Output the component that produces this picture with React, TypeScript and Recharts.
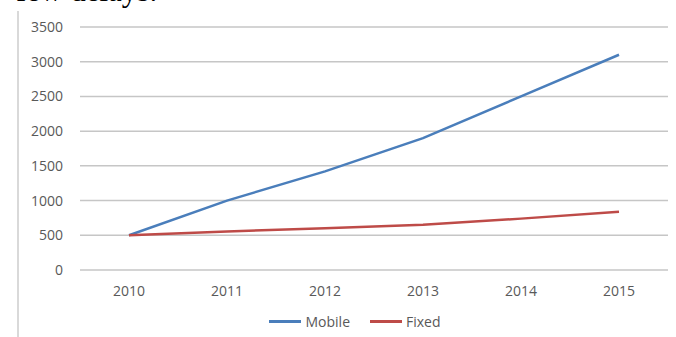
import { LineChart, Line, XAxis, YAxis, CartesianGrid, Legend } from 'recharts';

const years = ['2010', '2011', '2012', '2013', '2014', '2015'];
const mobile = [500, 1000, 1420, 1900, 2500, 3100];
const fixed = [500, 555, 600, 650, 740, 840];
const seriesNames = ['Mobile', 'Fixed'];
const yTicks = [0, 500, 1000, 1500, 2000, 2500, 3000, 3500];

const data = years.map((year, i) => ({ year, Mobile: mobile[i], Fixed: fixed[i] }));

const tickStyle = { fontFamily: "'Open Sans'", fontSize: 14, fill: '#595959' };

function renderLegend(props: any) {
  const items = [...(props.payload || [])].sort(
    (a: any, b: any) => seriesNames.indexOf(a.value) - seriesNames.indexOf(b.value)
  );
  return (
    <div style={{ display: 'flex', justifyContent: 'center', alignItems: 'center', paddingLeft: 62, fontFamily: "'Open Sans'", fontSize: 14, color: '#595959' }}>
      {items.map((entry: any) => (
        <div key={entry.value} style={{ display: 'flex', alignItems: 'center', marginRight: 20 }}>
          <span style={{ display: 'inline-block', width: 32, height: 3, background: entry.color, marginRight: 4 }} />
          <span>{entry.value}</span>
        </div>
      ))}
    </div>
  );
}

export default function App() {
  return (
    <div style={{ position: 'absolute', left: 0, top: 0, width: 676, height: 337, background: '#fff', overflow: 'hidden' }}>
      <div style={{ position: 'absolute', left: 16, top: -25, fontFamily: "'Liberation Serif'", fontSize: 31, lineHeight: '31px', color: '#000' }}>
        few delays.
      </div>
      <div style={{ position: 'absolute', left: 17, top: 11, width: 2, height: 326, background: '#d9d9d9' }} />
      <div style={{ position: 'absolute', left: 0, top: 0 }}>
        <LineChart width={676} height={337} data={data} margin={{ top: 27, right: 8, left: 0, bottom: 0 }}>
          <CartesianGrid vertical={false} stroke="#c6c6c6" strokeWidth={1.5} />
          <XAxis
            dataKey="year"
            axisLine={false}
            tickLine={false}
            tickSize={0}
            tickMargin={16}
            height={42}
            padding={{ left: 49, right: 49 }}
            tick={tickStyle}
          />
          <YAxis
            domain={[0, 3500]}
            ticks={yTicks}
            axisLine={false}
            tickLine={false}
            tickSize={0}
            tickMargin={17}
            width={80}
            tick={tickStyle}
          />
          <Legend verticalAlign="bottom" height={25} content={renderLegend} />
          <Line type="linear" dataKey="Mobile" stroke="#4a7ebb" strokeWidth={2.5} dot={false} isAnimationActive={false} />
          <Line type="linear" dataKey="Fixed" stroke="#be4b48" strokeWidth={2.5} dot={false} isAnimationActive={false} />
        </LineChart>
      </div>
    </div>
  );
}
